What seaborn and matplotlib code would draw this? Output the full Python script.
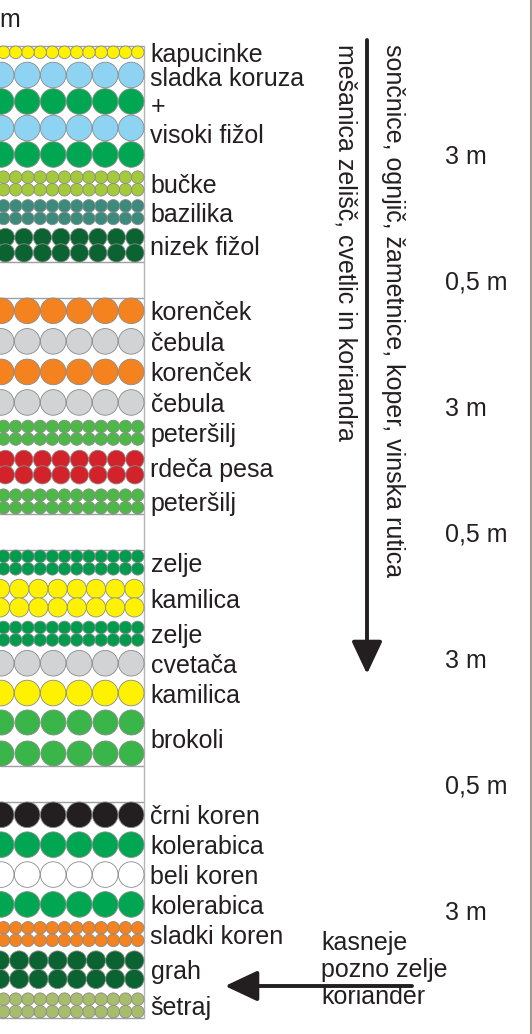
import numpy as np
import pandas as pd
import matplotlib
matplotlib.use("Agg")
import matplotlib.pyplot as plt
import seaborn as sns

# ---------------- data ----------------
BED_LENGTH_M = [3, 3, 3, 3]          # length of each bed
PATH_WIDTH_M = [0.5, 0.5, 0.5]       # paths between beds
BED_WIDTH_M = 2.0                    # visible width of the beds

bed1_labels = ["kapucinke", "sladka koruza\n+\nvisoki fižol", "bučke", "bazilika", "nizek fižol"]
bed1_rows = [["kapucinke"],
             ["sladka koruza", "visoki fižol", "sladka koruza", "visoki fižol"],
             ["bučke", "bučke"], ["bazilika", "bazilika"], ["nizek fižol", "nizek fižol"]]
bed1_sizes = ["S", "L", "S", "S", "Mc"]

bed2_labels = ["korenček", "čebula", "korenček", "čebula", "peteršilj", "rdeča pesa", "peteršilj"]
bed2_rows = [["korenček"], ["čebula"], ["korenček"], ["čebula"],
             ["peteršilj", "peteršilj"], ["rdeča pesa", "rdeča pesa"], ["peteršilj", "peteršilj"]]
bed2_sizes = ["L", "L", "L", "L", "S", "Mc", "S"]

bed3_labels = ["zelje", "kamilica", "zelje", "cvetača", "kamilica", "brokoli"]
bed3_rows = [["zelje", "zelje"], ["kamilica", "kamilica"], ["zelje", "zelje"],
             ["cvetača"], ["kamilica"], ["brokoli", "brokoli"]]
bed3_sizes = ["S", "M", "S", "L", "L", "LW"]

bed4_labels = ["črni koren", "kolerabica", "beli koren", "kolerabica", "sladki koren", "grah", "šetraj"]
bed4_rows = [["črni koren"], ["kolerabica"], ["beli koren"], ["kolerabica"],
             ["sladki koren", "sladki koren"], ["grah", "grah"], ["šetraj", "šetraj"]]
bed4_sizes = ["L", "L", "L", "L", "S", "M", "S"]

SIDE_RIGHT = "sončnice, ognjič, žametnice, koper, vinska rutica"
SIDE_LEFT = "mešanica zelišč, cvetlic in koriandra"
LATE_TEXT = "kasneje\npozno zelje\nkoriander"

PLANT_COLORS = {
    "kapucinke": "#fff200", "sladka koruza": "#8fd3f3", "visoki fižol": "#00a651",
    "bučke": "#a4ca3a", "bazilika": "#3c8a7b", "nizek fižol": "#0c6332",
    "korenček": "#f4821f", "čebula": "#d1d3d4", "peteršilj": "#4db848",
    "rdeča pesa": "#d2232a", "zelje": "#009b4d", "kamilica": "#fff200",
    "cvetača": "#d1d3d4", "brokoli": "#39b54a", "črni koren": "#231f20",
    "kolerabica": "#00a651", "beli koren": "#ffffff", "sladki koren": "#f4821f",
    "grah": "#0c6332", "šetraj": "#a8bd6c",
}

# ---------------- style / layout ----------------
W_PX, H_PX, DPI = 532, 1034, 100
PX_PER_M = 72.0
TOP_PX = 46.0
INK = "#231f20"
EDGE = "#8a8a8a"
FONT = 18

SIZE_STYLE = {  # pixel sizes: circle diameter, row pitch, column pitch
    "S": dict(d=12.6, pitch=12.5, col=12.2),
    "M": dict(d=19.2, pitch=18.5, col=19.2),
    "Mc": dict(d=18.2, pitch=15.5, col=18.5),
    "L": dict(d=25.6, pitch=26.5, col=26.0),
    "LW": dict(d=25.0, pitch=31.0, col=26.0),
}

def xm(v):
    return v / PX_PER_M

def ym(v):
    return (v - TOP_PX) / PX_PER_M

sns.set_theme(style="white")
plt.rcParams["font.family"] = ["Liberation Sans", "DejaVu Sans"]

fig = plt.figure(figsize=(W_PX / DPI, H_PX / DPI), dpi=DPI)
ax = fig.add_axes([0, 0, 1, 1])

beds = [(bed1_labels, bed1_rows, bed1_sizes), (bed2_labels, bed2_rows, bed2_sizes),
        (bed3_labels, bed3_rows, bed3_sizes), (bed4_labels, bed4_rows, bed4_sizes)]

# bed start positions (m)
starts = [0.0]
for L, p in zip(BED_LENGTH_M[:-1], PATH_WIDTH_M):
    starts.append(starts[-1] + L + p)

records = []
label_specs = []
for (labels, rows, sizes), y0, blen in zip(beds, starts, BED_LENGTH_M):
    heights = []
    for r, s in zip(rows, sizes):
        st = SIZE_STYLE[s]
        heights.append(xm(st["d"] + (len(r) - 1) * st["pitch"]))
    gap = (blen - sum(heights)) / (len(rows) - 1)
    y = y0
    for lab, r, s, h in zip(labels, rows, sizes, heights):
        st = SIZE_STYLE[s]
        d, pitch, col = xm(st["d"]), xm(st["pitch"]), xm(st["col"])
        for i, plant in enumerate(r):
            yc = y + d / 2 + i * pitch
            k = 0
            while True:
                xc = BED_WIDTH_M - d / 2 - k * col
                if xc < -d / 2:
                    break
                records.append(dict(x=xc, y=yc, plant=plant, size=s))
                k += 1
        label_specs.append((lab, y, h))
        y += h + gap

df = pd.DataFrame(records)
for s, sub in df.groupby("size"):
    dpt = SIZE_STYLE[s]["d"] * 72.0 / DPI
    sns.scatterplot(data=sub, x="x", y="y", hue="plant", palette=PLANT_COLORS,
                    s=dpt ** 2, edgecolor=EDGE, linewidth=0.6, legend=False,
                    ax=ax, zorder=3)

# bed outlines
for y0, blen in zip(starts, BED_LENGTH_M):
    for yy in (y0, y0 + blen):
        ax.plot([0, BED_WIDTH_M], [yy, yy], color="#9d9fa2", lw=1.0, zorder=2)
ax.plot([BED_WIDTH_M, BED_WIDTH_M], [starts[0], starts[-1] + BED_LENGTH_M[-1]],
        color="#b3b5b8", lw=1.0, zorder=2)

# plant labels
for lab, ytop, h in label_specs:
    if "\n" in lab:
        ax.text(xm(150.5), ytop + xm(5), lab, ha="left", va="top", fontsize=FONT,
                color=INK, linespacing=1.22)
    else:
        ax.text(xm(150.5), ytop + h / 2, lab, ha="left", va="center_baseline",
                fontsize=FONT, color=INK)

# dimension labels
def fmt(v):
    return f"{v:g} m".replace(".", ",")

for y0, blen in zip(starts, BED_LENGTH_M):
    ax.text(xm(445), y0 + blen / 2, fmt(blen), ha="left", va="center_baseline",
            fontsize=FONT, color=INK)
for y0, blen, p in zip(starts, BED_LENGTH_M, PATH_WIDTH_M):
    ax.text(xm(445), y0 + blen + p / 2, fmt(p), ha="left", va="center_baseline",
            fontsize=FONT, color=INK)

# vertical arrow with side notes
ax.annotate("", xy=(xm(367), ym(674)), xytext=(xm(367), ym(40)),
            arrowprops=dict(arrowstyle="-|>,head_length=1.0,head_width=0.47",
                            mutation_scale=20, lw=2.8, color=INK,
                            shrinkA=0, shrinkB=0), zorder=4)
ax.text(xm(393), ym(44), SIDE_RIGHT, rotation=270, ha="center", va="top",
        fontsize=FONT, color=INK)
ax.text(xm(345), ym(44), SIDE_LEFT, rotation=270, ha="center", va="top",
        fontsize=FONT, color=INK)

# horizontal arrow with late crops note
ax.annotate("", xy=(xm(225), ym(986)), xytext=(xm(412), ym(986)),
            arrowprops=dict(arrowstyle="-|>,head_length=1.0,head_width=0.47",
                            mutation_scale=20, lw=2.8, color=INK,
                            shrinkA=0, shrinkB=0), zorder=4)
ax.text(xm(321), ym(970), LATE_TEXT, ha="left", va="center", fontsize=FONT,
        color=INK, linespacing=1.15)

# cropped unit text at top-left and frame at right
ax.text(xm(-1), ym(17), "m", ha="left", va="center_baseline", fontsize=FONT, color=INK)
ax.plot([xm(531), xm(531)], [ym(0), ym(H_PX)], color="#a39b92", lw=1.5)

ax.set_xlim(0, xm(W_PX))
ax.set_ylim(ym(H_PX), ym(0))
ax.axis("off")
fig.savefig("out.png", dpi=DPI, facecolor="white")
